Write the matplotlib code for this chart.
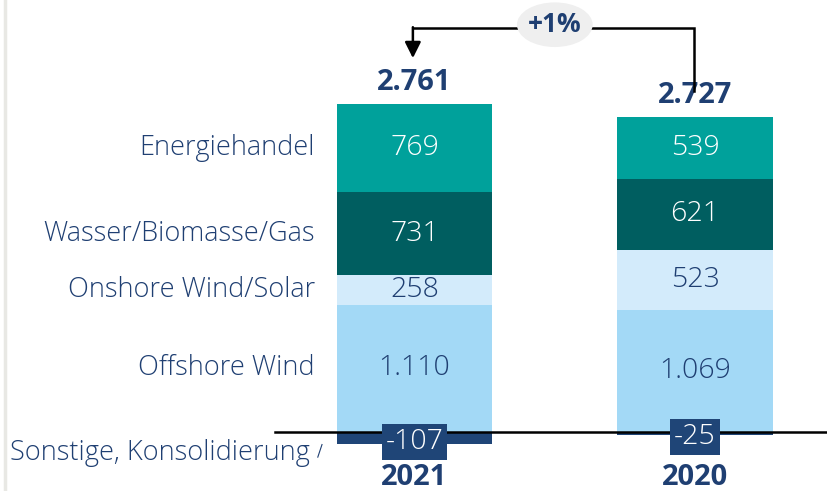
import matplotlib.pyplot as plt
from matplotlib.patches import Ellipse
import numpy as np

years = ['2021', '2020']
categories = ['Offshore Wind', 'Onshore Wind/Solar', 'Wasser/Biomasse/Gas', 'Energiehandel']
values = {
    'Offshore Wind': [1110, 1069],
    'Onshore Wind/Solar': [258, 523],
    'Wasser/Biomasse/Gas': [731, 621],
    'Energiehandel': [769, 539],
}
other_label = 'Sonstige, Konsolidierung'
other = [-107, -25]
totals = ['2.761', '2.727']
change = '+1%'

colors = {
    'Offshore Wind': '#a3d9f6',
    'Onshore Wind/Solar': '#d3ebfb',
    'Wasser/Biomasse/Gas': '#005e60',
    'Energiehandel': '#00a19b',
}
navy = '#1f4577'
text_navy = '#1f3f72'

plt.rcParams['font.family'] = ['Open Sans', 'DejaVu Sans']

fig = plt.figure(figsize=(8.28, 4.91), dpi=100)
ax = fig.add_axes([0, 0, 1, 1])
ax.set_xlim(-1.478, 1.474)
ax.set_ylim(-516, 3776)
ax.axis('off')

x = np.arange(len(years))
w = 0.553

def fmt(v):
    return f'{v:,}'.replace(',', '.')

bottom = np.zeros(len(years))
for cat in categories:
    vals = np.array(values[cat])
    ax.bar(x, vals, w, bottom=bottom, color=colors[cat], linewidth=0, zorder=2)
    for i, v in enumerate(vals):
        ax.text(x[i], bottom[i] + v / 2, fmt(v), ha='center', va='center',
                color='white' if cat in ('Wasser/Biomasse/Gas', 'Energiehandel') else text_navy,
                fontsize=20.5, fontweight='light', zorder=5)
    # category label next to the first bar
    ax.text(-0.355, bottom[0] + vals[0] / 2, cat, ha='right', va='center',
            color=text_navy, fontsize=19.5, fontweight='light')
    bottom += vals

# negative segment
ax.bar(x, other, w, color=navy, linewidth=0, zorder=2)
for i, v in enumerate(other):
    ax.text(x[i], v / 2 - 30, fmt(v), ha='center', va='center', color='white',
            fontsize=20.5, fontweight='light', zorder=6,
            bbox=dict(boxstyle='square,pad=0.14', fc=navy, ec='none'))
ax.text(-0.375, -180, other_label, ha='right', va='center', color=text_navy,
        fontsize=19.5, fontweight='light')
ax.plot([-0.345, -0.33], [-220, -110], color=text_navy, lw=0.8)

# baseline
ax.plot([-0.498, 1.474], [0, 0], color='black', lw=1.8, zorder=4)

# year labels and totals
tops = bottom
for i in range(len(years)):
    ax.text(x[i], -395, years[i], ha='center', va='center', color=text_navy,
            fontsize=21, fontweight='bold')
    ax.text(x[i], tops[i] + 185, totals[i], ha='center', va='center', color=text_navy,
            fontsize=21, fontweight='bold')

# change arrow
y_top = 3530
ax.plot([x[1] - 0.003, x[1] - 0.003, x[0] - 0.006], [tops[1] + 225, y_top, y_top],
        color='black', lw=1.8, solid_joinstyle='miter', zorder=3)
ax.annotate('', xy=(x[0] - 0.006, tops[0] + 400), xytext=(x[0] - 0.006, y_top + 8),
            arrowprops=dict(arrowstyle='-|>', color='black', lw=1.8,
                            mutation_scale=24, shrinkA=0, shrinkB=0), zorder=3)
ax.add_patch(Ellipse((0.5, y_top + 30), 0.27, 390, fc='#efefef', ec='none', zorder=4))
ax.text(0.5, y_top + 30, change, ha='center', va='center', color=text_navy,
        fontsize=19, fontweight='bold', zorder=5)

# light left rule
fig.add_artist(plt.Line2D([0.0065, 0.0065], [0, 1], color='#e8e8e4', lw=2.5))

fig.savefig('out.png', dpi=100)
